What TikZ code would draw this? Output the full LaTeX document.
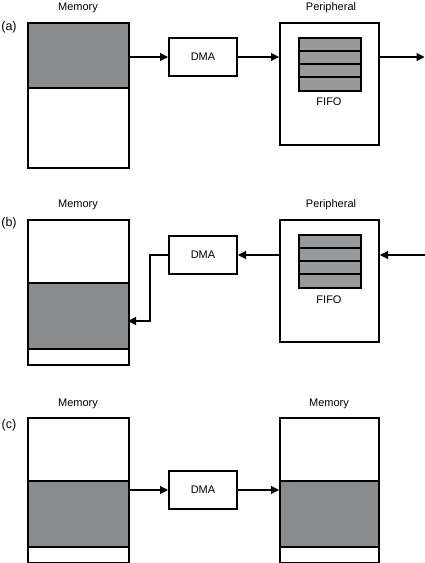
\documentclass[tikz,border=0pt]{standalone}
\usepackage{fontspec}
\setmainfont{Liberation Sans}
\usetikzlibrary{arrows.meta}
\definecolor{memgray}{RGB}{138,139,141}
\definecolor{fifogray}{RGB}{152,153,155}
\begin{document}
\begin{tikzpicture}[x=1pt,y=-1pt,
  box/.style={draw, line width=2pt, rectangle, inner sep=0pt},
  membox/.style={box, minimum width=101pt, minimum height=145pt, anchor=north west},
  perbox/.style={box, minimum width=99pt, minimum height=122pt, anchor=north west},
  dmabox/.style={box, minimum width=68pt, minimum height=38pt, font=\fontsize{11}{13}\selectfont},
  lbl/.style={font=\fontsize{11}{13}\selectfont, inner sep=0pt},
  plbl/.style={font=\fontsize{12.5}{14}\selectfont, inner sep=0pt},
  arr/.style={line width=1.1pt, -{Triangle[length=8pt,width=8pt]}},
  div/.style={line width=2pt}]
\useasboundingbox (0,0) rectangle (425,563);

% ---------- (a) ----------
\node[plbl] (la) at (9,27) {(a)};
\fill[memgray] (27,22) rectangle (128,88);
\draw[div] (27,88) -- (128,88);
\node[membox] (memA) at (27,22) {};
\node[lbl] (memAl) at (78,8) {Memory};
\node[dmabox] (dmaA) at (203,57) {DMA};
\node[perbox] (perA) at (279,22) {};
\node[lbl] (perAl) at (331,8) {Peripheral};
\fill[fifogray] (298,37) rectangle (360,90);
\foreach \yy in {50.5,64,77} \draw[div] (298,\yy) -- (360,\yy);
\node[box, minimum width=62pt, minimum height=53pt, anchor=north west] (fifoA) at (298,37) {};
\node[lbl] (fifoAl) at (329,102) {FIFO};
\coordinate (outA) at (424.5,57);
\draw[arr] (dmaA.west -| memA.east) -- (dmaA.west);
\draw[arr] (dmaA.east) -- (dmaA.east -| perA.west);
\draw[arr] (dmaA.east -| perA.east) -- (outA);

% ---------- (b) ----------
\node[plbl] (lb) at (9,223) {(b)};
\fill[memgray] (27,283) rectangle (128,349);
\draw[div] (27,283) -- (128,283);
\draw[div] (27,349) -- (128,349);
\node[membox] (memB) at (27,219) {};
\node[lbl] (memBl) at (78,205) {Memory};
\node[dmabox] (dmaB) at (203,255) {DMA};
\node[perbox] (perB) at (279,219) {};
\node[lbl] (perBl) at (331,205) {Peripheral};
\fill[fifogray] (298,234) rectangle (360,287);
\foreach \yy in {247.5,261,274} \draw[div] (298,\yy) -- (360,\yy);
\node[box, minimum width=62pt, minimum height=53pt, anchor=north west] (fifoB) at (298,234) {};
\node[lbl] (fifoBl) at (329,300) {FIFO};
\coordinate (inB) at (424.5,255);
\coordinate (targB) at (128,321);
\draw[arr] (inB) -- (inB -| perB.east);
\draw[arr] (dmaB.east -| perB.west) -- (dmaB.east);
\draw[arr] (dmaB.west) -- (150,255) |- (targB);

% ---------- (c) ----------
\node[plbl] (lc) at (9,425) {(c)};
\fill[memgray] (27,481) rectangle (128,547);
\draw[div] (27,481) -- (128,481);
\draw[div] (27,547) -- (128,547);
\node[membox] (memC1) at (27,417) {};
\node[lbl] (memC1l) at (78,404) {Memory};
\node[dmabox] (dmaC) at (203,490) {DMA};
\fill[memgray] (279,481) rectangle (378,547);
\draw[div] (279,481) -- (378,481);
\draw[div] (279,547) -- (378,547);
\node[box, minimum width=99pt, minimum height=145pt, anchor=north west] (memC2) at (279,417) {};
\node[lbl] (memC2l) at (329,404) {Memory};
\draw[arr] (dmaC.west -| memC1.east) -- (dmaC.west);
\draw[arr] (dmaC.east) -- (dmaC.east -| memC2.west);
\end{tikzpicture}
\end{document}
